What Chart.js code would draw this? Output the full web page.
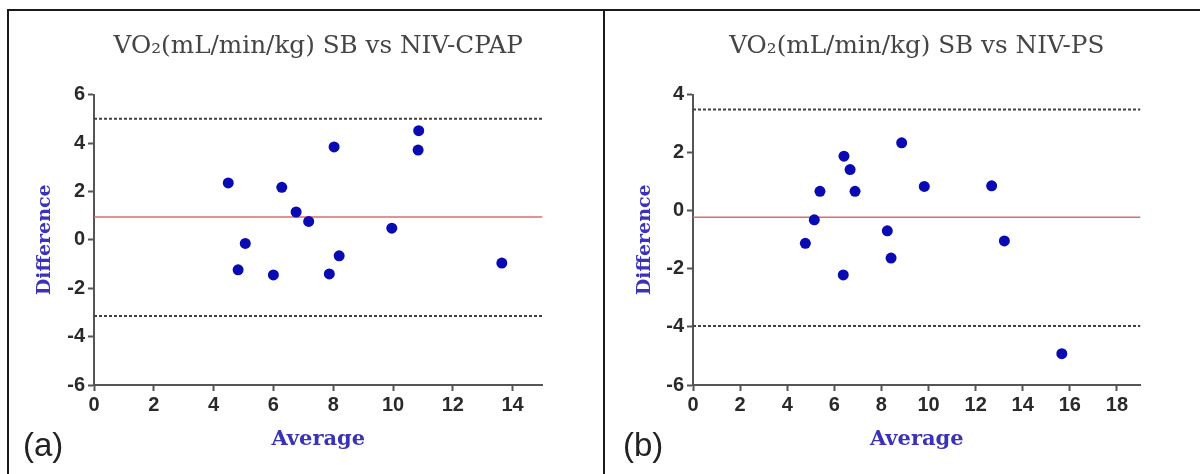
<!DOCTYPE html>
<html>
<head>
<meta charset="utf-8">
<script src="https://cdn.jsdelivr.net/npm/chart.js@4"></script>
<style>
body { margin: 0; background: #fff; }
#pagina { position: relative; width: 1200px; height: 474px; overflow: hidden; }
canvas { position: absolute; top: 0; }
.linha { position: absolute; background: #1a1a1a; }
.letra { position: absolute; font-family: 'Liberation Sans', sans-serif; font-size: 33px; color: #222; }
</style>
</head>
<body>
<div id="pagina">
  <canvas id="painel_a" width="600" height="474" style="left:0px"></canvas>
  <canvas id="painel_b" width="600" height="474" style="left:600px"></canvas>
  <div class="linha" style="left:7px;top:9px;width:1193px;height:2px"></div>
  <div class="linha" style="left:7px;top:9px;width:2px;height:465px"></div>
  <div class="linha" style="left:603px;top:9px;width:2px;height:465px"></div>
  <div class="letra" style="left:23px;top:426px">(a)</div>
  <div class="letra" style="left:623px;top:426px">(b)</div>
</div>
<script>
// painel (a): SB vs NIV-CPAP
const titulo_a = 'VO₂(mL/min/kg) SB vs NIV-CPAP'
const media_a = [4.49, 4.82, 5.06, 6.0, 6.28, 6.76, 7.18, 7.87, 8.03, 8.2, 9.96, 10.84, 10.86, 13.64]
const diferenca_a = [2.35, -1.24, -0.15, -1.45, 2.17, 1.15, 0.76, -1.41, 3.84, -0.66, 0.48, 3.71, 4.51, -0.96]
const vies_a = 0.94
const limite_sup_a = 5.0
const limite_inf_a = -3.15
const faixa_x_a = [0, 15]
const ticks_x_a = [0, 2, 4, 6, 8, 10, 12, 14]
const ticks_y_a = [-6, -4, -2, 0, 2, 4, 6]

// painel (b): SB vs NIV-PS
const titulo_b = 'VO₂(mL/min/kg) SB vs NIV-PS'
const media_b = [4.77, 5.15, 5.39, 6.38, 6.41, 6.67, 6.88, 8.25, 8.41, 8.86, 9.82, 12.68, 13.22, 15.66]
const diferenca_b = [-1.12, -0.31, 0.67, -2.21, 1.88, 1.42, 0.67, -0.69, -1.63, 2.34, 0.84, 0.86, -1.04, -4.92]
const vies_b = -0.22
const limite_sup_b = 3.49
const limite_inf_b = -3.97
const faixa_x_b = [0, 19]
const ticks_x_b = [0, 2, 4, 6, 8, 10, 12, 14, 16, 18]
const ticks_y_b = [-6, -4, -2, 0, 2, 4]

function pontos(xs, ys){
    var lista = []
    for(let i = 0; i < xs.length; i++){
        lista.push({x: xs[i], y: ys[i]})
    }
    return lista
}

function linha_h(faixa, y){
    return [{x: faixa[0], y: y}, {x: faixa[1], y: y}]
}

function renderiza_painel(id, titulo, medias, diferencas, vies, sup, inf, faixa_x, ticks_x, ticks_y, esq, dir){
    const ctx = document.getElementById(id).getContext('2d');
    const fonte_ticks = {family: 'Liberation Sans', size: 20, weight: 'bold'}
    const cor_eixo = '#555'
    const cor_titulo_eixo = '#3a32b8'
    const pontilhado = {borderColor: '#404040', borderWidth: 2, borderDash: [3, 2], pointRadius: 0, showLine: true, order: 1}

    const myChart = new Chart(ctx, {
        type: 'scatter',
        data: {
            datasets: [
                {label: 'pontos', data: pontos(medias, diferencas), backgroundColor: '#0a0ab4', borderWidth: 0, pointRadius: 5.5, order: 0},
                {label: 'vies', data: linha_h(faixa_x, vies), borderColor: '#e06a6a', borderWidth: 1.5, pointRadius: 0, showLine: true, order: 1},
                Object.assign({label: 'superior', data: linha_h(faixa_x, sup)}, pontilhado),
                Object.assign({label: 'inferior', data: linha_h(faixa_x, inf)}, pontilhado)
            ]
        },
        options: {
            responsive: false,
            animation: false,
            devicePixelRatio: 1,
            layout: {padding: {left: 20, right: dir, top: 0, bottom: 0}},
            plugins: {
                legend: {display: false},
                tooltip: {enabled: false},
                title: {
                    display: true,
                    text: titulo,
                    fullSize: false,
                    color: '#454545',
                    font: {family: 'DejaVu Serif', size: 24.7, weight: 'normal'},
                    padding: {top: 32, bottom: 33}
                }
            },
            scales: {
                x: {
                    type: 'linear',
                    min: faixa_x[0],
                    max: faixa_x[1],
                    afterBuildTicks: function(s){ s.ticks = ticks_x.map(v => ({value: v})) },
                    afterFit: function(s){ s.height = 89 },
                    ticks: {color: '#2a2a2a', font: fonte_ticks, padding: 2, maxRotation: 0},
                    grid: {drawOnChartArea: false, drawTicks: true, tickLength: 6, tickWidth: 2, tickColor: cor_eixo},
                    border: {display: true, color: cor_eixo, width: 2},
                    title: {display: true, text: 'Average', color: cor_titulo_eixo, font: {family: 'DejaVu Serif', size: 21, weight: 'bold'}, padding: {top: 0, bottom: 22}}
                },
                y: {
                    type: 'linear',
                    min: ticks_y[0],
                    max: ticks_y[ticks_y.length - 1],
                    afterBuildTicks: function(s){ s.ticks = ticks_y.map(v => ({value: v})) },
                    afterFit: function(s){ s.width = esq - 20 },
                    ticks: {color: '#2a2a2a', font: fonte_ticks, padding: 3},
                    grid: {drawOnChartArea: false, drawTicks: true, tickLength: 6, tickWidth: 2, tickColor: cor_eixo},
                    border: {display: true, color: cor_eixo, width: 2},
                    title: {display: true, text: 'Difference', color: cor_titulo_eixo, font: {family: 'DejaVu Serif', size: 19, weight: 'bold'}, padding: {top: 14, bottom: 0}}
                }
            }
        }
    });
    return myChart
}

renderiza_painel('painel_a', titulo_a, media_a, diferenca_a, vies_a, limite_sup_a, limite_inf_a, faixa_x_a, ticks_x_a, ticks_y_a, 94, 57.5)
renderiza_painel('painel_b', titulo_b, media_b, diferenca_b, vies_b, limite_sup_b, limite_inf_b, faixa_x_b, ticks_x_b, ticks_y_b, 93, 59.5)
</script>
</body>
</html>
